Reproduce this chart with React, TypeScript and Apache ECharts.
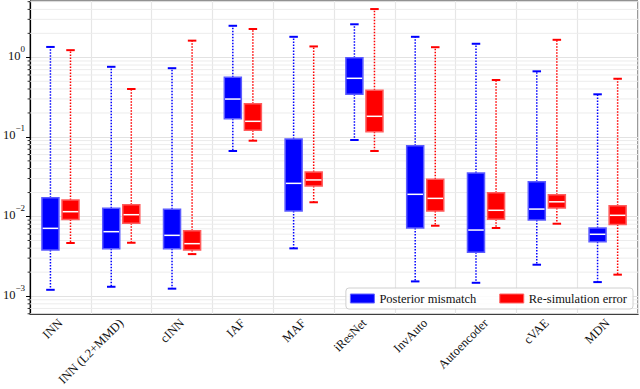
import React, { useEffect, useRef } from 'react';
import * as echarts from 'echarts';

const categories = ['INN', 'INN (L2+MMD)', 'cINN', 'IAF', 'MAF', 'iResNet', 'InvAuto', 'Autoencoder', 'cVAE', 'MDN'];

// [min, q1, median, q3, max]
const posteriorMismatch = [
  [0.0012, 0.0038, 0.0071, 0.0172, 1.35],
  [0.00131, 0.00394, 0.00645, 0.0127, 0.76],
  [0.00124, 0.00394, 0.0058, 0.0123, 0.73],
  [0.0665, 0.169, 0.299, 0.561, 2.49],
  [0.00398, 0.0117, 0.0261, 0.0941, 1.81],
  [0.0914, 0.343, 0.545, 0.989, 2.6],
  [0.00153, 0.00717, 0.019, 0.0776, 1.81],
  [0.00147, 0.00355, 0.00676, 0.0352, 1.48],
  [0.00248, 0.00904, 0.0124, 0.0274, 0.667],
  [0.0015, 0.00483, 0.00598, 0.00717, 0.343],
];

const resimulationError = [
  [0.00465, 0.0092, 0.0115, 0.0161, 1.23],
  [0.00468, 0.0082, 0.01054, 0.01406, 0.4],
  [0.00337, 0.0038, 0.00456, 0.00663, 1.62],
  [0.0896, 0.121, 0.157, 0.261, 2.27],
  [0.0151, 0.0242, 0.0288, 0.0362, 1.37],
  [0.0665, 0.116, 0.1815, 0.385, 4.04],
  [0.00766, 0.0117, 0.0169, 0.0293, 1.34],
  [0.00717, 0.00923, 0.01197, 0.0199, 0.519],
  [0.00812, 0.0128, 0.0153, 0.0188, 1.66],
  [0.00186, 0.00794, 0.01035, 0.01367, 0.538],
];

const majorTicks = [0.001, 0.01, 0.1, 1];
const minorTicks = [
  0.0006, 0.0007, 0.0008, 0.0009,
  0.002, 0.003, 0.004, 0.005, 0.006, 0.007, 0.008, 0.009,
  0.02, 0.03, 0.04, 0.05, 0.06, 0.07, 0.08, 0.09,
  0.2, 0.3, 0.4, 0.5, 0.6, 0.7, 0.8, 0.9,
  2, 3, 4, 5,
];

const FONT = "'Liberation Serif', serif";

function boxRenderer(offsetFrac: number, fill: string, edge: string) {
  return (params: any, api: any) => {
    const cat = api.value(0);
    const band = api.size([1, 0])[0];
    const cx = api.coord([cat, 1])[0] + band * offsetFrac;
    const w = band * 0.28;
    const capW = band * 0.14;
    const yMin = api.coord([cat, api.value(1)])[1];
    const yQ1 = api.coord([cat, api.value(2)])[1];
    const yMed = api.coord([cat, api.value(3)])[1];
    const yQ3 = api.coord([cat, api.value(4)])[1];
    const yMax = api.coord([cat, api.value(5)])[1];
    const dotted = { stroke: fill, lineWidth: 1.5, lineDash: [1.5, 1.5] };
    return {
      type: 'group',
      children: [
        { type: 'line', shape: { x1: cx, y1: yQ3, x2: cx, y2: yMax }, style: dotted },
        { type: 'line', shape: { x1: cx, y1: yQ1, x2: cx, y2: yMin }, style: dotted },
        { type: 'line', shape: { x1: cx - capW / 2, y1: yMax, x2: cx + capW / 2, y2: yMax }, style: { stroke: fill, lineWidth: 2 } },
        { type: 'line', shape: { x1: cx - capW / 2, y1: yMin, x2: cx + capW / 2, y2: yMin }, style: { stroke: fill, lineWidth: 2 } },
        { type: 'rect', shape: { x: cx - w / 2, y: yQ3, width: w, height: yQ1 - yQ3 }, style: { fill, stroke: edge, lineWidth: 1.5 } },
        { type: 'line', shape: { x1: cx - w / 2 + 0.75, y1: yMed, x2: cx + w / 2 - 0.75, y2: yMed }, style: { stroke: '#ffffff', lineWidth: 1.5 } },
      ],
    };
  };
}

export default function App() {
  const ref = useRef<HTMLDivElement>(null);
  useEffect(() => {
    const chart = echarts.init(ref.current!, null, { renderer: 'svg' });
    const toRows = (arr: number[][]) => arr.map((r, i) => [i, ...r]);
    const legendText = { fontFamily: FONT, fontSize: 12.5, color: '#111' };
    chart.setOption({
      animation: false,
      backgroundColor: '#ffffff',
      textStyle: { fontFamily: FONT },
      grid: {
        left: 30, right: 2, top: 1, bottom: 75,
        show: true, borderColor: '#222', borderWidth: 1, backgroundColor: 'transparent',
      },
      legend: {
        right: 7, bottom: 80,
        orient: 'horizontal',
        itemWidth: 24, itemHeight: 9, itemGap: 23,
        padding: [4, 6, 4, 4],
        backgroundColor: 'rgba(255,255,255,0.85)',
        borderColor: '#d0d0d0', borderWidth: 1, borderRadius: 3,
        textStyle: legendText,
        data: [
          { name: 'Posterior mismatch', icon: 'rect', textStyle: legendText, itemStyle: { color: '#0000ff', borderColor: '#6666ff', borderWidth: 1 } },
          { name: 'Re-simulation error', icon: 'rect', textStyle: legendText, itemStyle: { color: '#ff0000', borderColor: '#ff6666', borderWidth: 1 } },
        ],
      },
      xAxis: {
        type: 'category',
        data: categories,
        boundaryGap: true,
        axisLine: { lineStyle: { color: '#000', width: 1.2 } },
        axisTick: { alignWithLabel: true, length: 4, lineStyle: { color: '#000' } },
        axisLabel: { rotate: 45, interval: 0, margin: 7, fontFamily: FONT, fontSize: 12.5, color: '#111' },
        splitLine: { show: true, interval: 0, lineStyle: { color: '#e6e6e6', width: 1.2 } },
      },
      yAxis: {
        type: 'log',
        logBase: 10,
        min: 0.000596,
        max: 5.1,
        axisLine: { show: true, lineStyle: { color: '#000', width: 1.2 } },
        axisTick: { show: true, length: 4, lineStyle: { color: '#000' }, customValues: majorTicks },
        axisLabel: {
          customValues: majorTicks,
          margin: 5,
          padding: [0, 0, 8, 0],
          formatter: (v: number) => {
            const l = Math.log10(v);
            const e = Math.round(l);
            if (Math.abs(l - e) > 1e-6) return '';
            return `{b|10}{s|${e === 0 ? '0' : '\u2212' + -e}}`;
          },
          rich: {
            b: { fontFamily: FONT, fontSize: 12.5, color: '#111', verticalAlign: 'bottom', lineHeight: 18 },
            s: { fontFamily: FONT, fontSize: 9, color: '#111', verticalAlign: 'top', lineHeight: 18 },
          },
        },
        splitLine: { show: true, lineStyle: { color: '#e2e2e2', width: 1 } },
      },
      series: [
        {
          type: 'custom',
          name: 'minor',
          silent: true,
          z: 1,
          data: minorTicks.map((v) => [0, v]),
          encode: { x: 0, y: 1 },
          renderItem: (params: any, api: any) => {
            const cs = params.coordSys;
            const y = api.coord([0, api.value(1)])[1];
            return {
              type: 'group',
              children: [
                { type: 'line', shape: { x1: cs.x, y1: y, x2: cs.x + cs.width, y2: y }, style: { stroke: '#ececec', lineWidth: 1 } },
                { type: 'line', shape: { x1: cs.x - 2.5, y1: y, x2: cs.x, y2: y }, style: { stroke: '#000', lineWidth: 0.8 } },
              ],
            };
          },
        },
        {
          type: 'custom',
          name: 'Posterior mismatch',
          z: 3,
          itemStyle: { color: '#0000ff' },
          data: toRows(posteriorMismatch),
          encode: { x: 0, y: [1, 2, 3, 4, 5] },
          renderItem: boxRenderer(-0.165, '#0000ff', '#5c5cff'),
        },
        {
          type: 'custom',
          name: 'Re-simulation error',
          z: 3,
          itemStyle: { color: '#ff0000' },
          data: toRows(resimulationError),
          encode: { x: 0, y: [1, 2, 3, 4, 5] },
          renderItem: boxRenderer(0.165, '#ff0000', '#ff5c5c'),
        },
      ],
    });
    return () => chart.dispose();
  }, []);
  return <div ref={ref} style={{ width: 640, height: 389, position: 'absolute', left: 0, top: 0 }} />;
}
